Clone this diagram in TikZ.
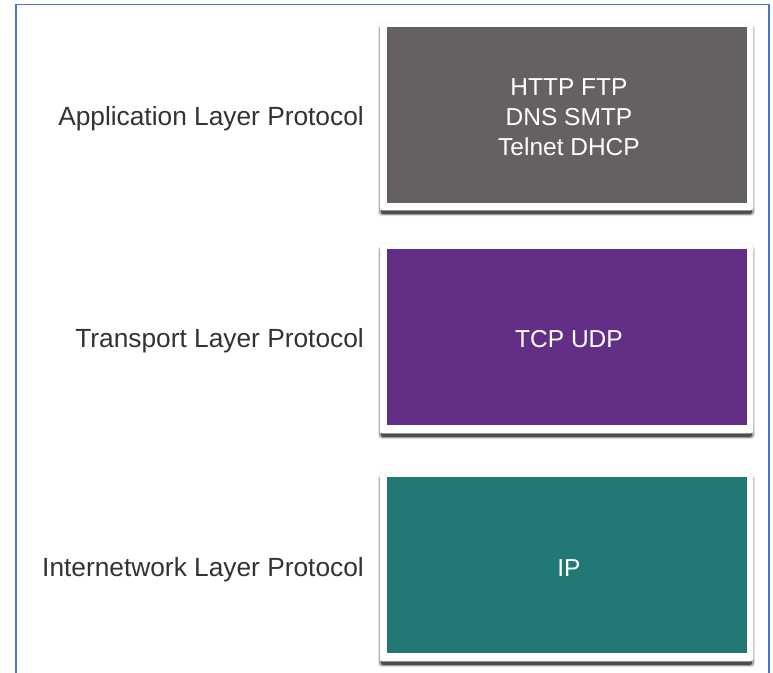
\documentclass[tikz,border=0pt]{standalone}
\usepackage{fontspec}
\setmainfont{Liberation Sans}
\definecolor{frameblue}{HTML}{4A76CF}
\definecolor{appgray}{HTML}{656162}
\definecolor{tpurple}{HTML}{632F86}
\definecolor{iteal}{HTML}{217875}
\definecolor{labeltxt}{HTML}{333333}
\tikzset{
  lbl/.style={anchor=east, text=labeltxt, font=\fontsize{26.3}{30}\selectfont, inner sep=0pt},
  inner/.style={fill=#1, draw=none, text=white, font=\fontsize{24.5}{30}\selectfont, align=center},
}
\newcommand{\cardshadow}[4]{% x1 y1 x2 y2 (outer card)
  \fill[black,opacity=0.10,rounded corners=3pt] (#1-2,#2+3) rectangle (#3+2,#4+6);
  \fill[black,opacity=0.25,rounded corners=3pt] (#1-1,#2+4) rectangle (#3+1,#4+5);
  \fill[black,opacity=0.55,rounded corners=2pt] (#1+1,#4-2) rectangle (#3-1,#4+4);
  \fill[white,draw=black!6,line width=0.5pt,rounded corners=2pt] (#1,#2) rectangle (#3,#4);
}
\begin{document}
\begin{tikzpicture}[x=1pt,y=-1pt]
\useasboundingbox (0,0) rectangle (773,672);
\fill[white] (0,0) rectangle (773,672);
\draw[frameblue, line width=1.8pt] (16,675) -- (16,4.5) -- (769,4.5) -- (769,675);
% cards
\cardshadow{380}{22}{753}{210}
\cardshadow{380}{243}{753}{433}
\cardshadow{380}{472}{753}{661}
\node[inner=appgray, minimum width=360pt, minimum height=176pt] (app) at (567,115) {};
\node[inner=tpurple, minimum width=360pt, minimum height=176pt] (tr) at (567,337) {};
\node[inner=iteal, minimum width=360pt, minimum height=176pt] (ip) at (567,565) {};
\node[text=white, font=\fontsize{24.5}{30}\selectfont, align=center] (appt) at (569,117.5) {HTTP FTP\\DNS SMTP\\Telnet DHCP};
\node[text=white, font=\fontsize{24.5}{30}\selectfont] (trt) at (569,339.5) {TCP UDP};
\node[text=white, font=\fontsize{24.5}{30}\selectfont] (ipt) at (569,568) {IP};
% labels
\node[lbl] (lapp) at (364,119) {Application Layer Protocol};
\node[lbl] (ltr) at (364,341) {Transport Layer Protocol};
\node[lbl] (lip) at (364,570) {Internetwork Layer Protocol};
\end{tikzpicture}
\end{document}
